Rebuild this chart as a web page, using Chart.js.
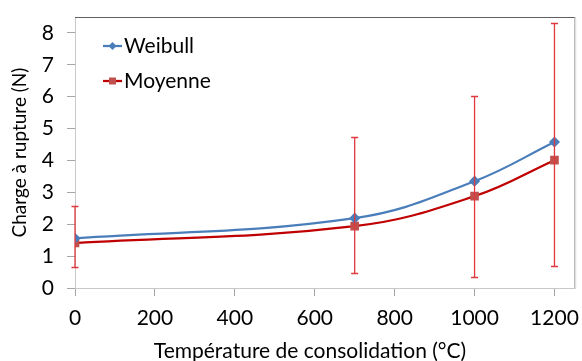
<!DOCTYPE html>
<html>
<head>
<meta charset="utf-8">
<script src="https://cdn.jsdelivr.net/npm/chart.js@4/dist/chart.umd.min.js"></script>
<style>
  html, body { margin: 0; padding: 0; background: #fff; }
  #wrap { width: 582px; height: 361px; position: relative; }
</style>
</head>
<body>
<div id="wrap"><canvas id="c"></canvas></div>
<script>
// temperatures (°C)
const temps = [0, 700, 1000, 1200];
const weibull = [1.56, 2.19, 3.35, 4.58];
const moyenne = [1.41, 1.94, 2.88, 4.01];
// error bar ends on the mean series
const errLow = [0.66, 0.47, 0.33, 0.69];
const errHigh = [2.57, 4.75, 6.02, 8.31];
const xTicks = [0, 200, 400, 600, 800, 1000, 1200];
const yTicks = [0, 1, 2, 3, 4, 5, 6, 7, 8];
const xTitle = "Température de consolidation (°C)";
const yTitle = "Charge à rupture (N)";

const FONT = "Lato, 'Open Sans', sans-serif";
const BLUE = "#4a7ebb";
const RED = "#c00000";
const RED_MK = "#c0504d";
const ERR = "#e0383e";

const toXY = (ys) => temps.map((t, i) => ({ x: t, y: ys[i] }));

const errorBars = {
  id: "errorBars",
  afterDatasetsDraw(chart) {
    const { ctx, scales: { x, y } } = chart;
    ctx.save();
    ctx.strokeStyle = ERR;
    ctx.lineWidth = 1.3;
    temps.forEach((t, i) => {
      const px = x.getPixelForValue(t);
      const top = Math.round(y.getPixelForValue(errHigh[i])) + 0.5;
      const bot = Math.round(y.getPixelForValue(errLow[i])) + 0.5;
      ctx.beginPath();
      ctx.moveTo(px, top); ctx.lineTo(px, bot);
      ctx.moveTo(px - 3.5, top); ctx.lineTo(px + 3.5, top);
      ctx.moveTo(px - 3.5, bot); ctx.lineTo(px + 3.5, bot);
      ctx.stroke();
    });
    ctx.restore();
  },
};

const frame = {
  id: "frame",
  beforeDatasetsDraw(chart) {
    const { ctx, chartArea: a } = chart;
    ctx.save();
    ctx.lineWidth = 1;
    ctx.strokeStyle = "#5f5f5f";
    ctx.beginPath();
    ctx.moveTo(a.left, a.top + 0.5); ctx.lineTo(a.right, a.top + 0.5);
    ctx.stroke();
    ctx.strokeStyle = "#a6a6a6";
    ctx.beginPath();
    ctx.moveTo(a.right - 0.5, a.top); ctx.lineTo(a.right - 0.5, a.bottom);
    ctx.stroke();
    ctx.strokeStyle = "#dcdcdc";
    ctx.beginPath();
    ctx.moveTo(a.right + 0.5, a.top + 1); ctx.lineTo(a.right + 0.5, a.bottom + 1);
    ctx.stroke();
    ctx.restore();
  },
};

// x title sits left of the plot centre in the original, so it is drawn here
const xTitlePlugin = {
  id: "xTitlePlugin",
  afterDraw(chart) {
    const { ctx } = chart;
    ctx.save();
    ctx.fillStyle = "#000";
    ctx.font = "21px " + FONT;
    ctx.textAlign = "center";
    ctx.textBaseline = "middle";
    ctx.fillText(xTitle, 310, 351);
    ctx.restore();
  },
};

const legendBox = {
  id: "legendBox",
  afterDraw(chart) {
    const { ctx } = chart;
    const rows = [46, 81];
    ctx.save();
    chart.data.datasets.forEach((ds, i) => {
      const cy = rows[i];
      ctx.strokeStyle = ds.borderColor;
      ctx.lineWidth = 2.25;
      ctx.beginPath();
      ctx.moveTo(103, cy); ctx.lineTo(122, cy);
      ctx.stroke();
      ctx.fillStyle = ds.pointBackgroundColor;
      ctx.beginPath();
      if (ds.pointStyle === "rectRot") {
        ctx.moveTo(112.5, cy - 4); ctx.lineTo(116.5, cy); ctx.lineTo(112.5, cy + 4); ctx.lineTo(108.5, cy);
      } else {
        ctx.rect(109, cy - 3.5, 7, 7);
      }
      ctx.fill();
      ctx.fillStyle = "#000";
      ctx.font = "21px " + FONT;
      ctx.textBaseline = "middle";
      ctx.fillText(ds.label, 124, cy);
    });
    ctx.restore();
  },
};

new Chart(document.getElementById("c"), {
  type: "line",
  data: {
    datasets: [
      {
        label: "Weibull", data: toXY(weibull),
        borderColor: BLUE, backgroundColor: BLUE,
        pointBackgroundColor: BLUE, pointBorderColor: BLUE,
        pointStyle: "rectRot", pointRadius: 4, borderWidth: 2.25, tension: 0.4,
      },
      {
        label: "Moyenne", data: toXY(moyenne),
        borderColor: RED, backgroundColor: RED_MK,
        pointBackgroundColor: RED_MK, pointBorderColor: RED_MK,
        pointStyle: "rect", pointRadius: 4.5, borderWidth: 2.25, tension: 0.4,
      },
    ],
  },
  options: {
    responsive: true, maintainAspectRatio: false, animation: false,
    layout: { padding: { top: 17, right: 5, left: 0, bottom: 0 } },
    plugins: { legend: { display: false }, tooltip: { enabled: false } },
    scales: {
      x: {
        type: "linear", min: 0, max: 1252,
        afterBuildTicks: (s) => { s.ticks = xTicks.map((v) => ({ value: v })); },
        afterFit: (s) => { s.height = 73; s.paddingLeft = 0; s.paddingRight = 0; },
        grid: { drawOnChartArea: false, drawTicks: true, tickLength: 8, color: "#a6a6a6" },
        border: { color: "#c8c8c8" },
        ticks: { color: "#000", font: { family: FONT, size: 21 }, padding: 10, maxRotation: 0,
                 callback: (v) => String(v) },
        title: { display: false, text: xTitle },
      },
      y: {
        min: 0, max: 8.5,
        afterBuildTicks: (s) => { s.ticks = yTicks.map((v) => ({ value: v })); },
        afterFit: (s) => { s.width = 75; s.paddingTop = 0; s.paddingBottom = 0; },
        grid: { drawOnChartArea: false, drawTicks: true, tickLength: 8, color: "#a6a6a6" },
        border: { color: "#c8c8c8" },
        ticks: { color: "#000", font: { family: FONT, size: 21 }, padding: 13,
                 callback: (v) => String(v) },
        title: { display: true, text: yTitle, color: "#000",
                 font: { family: FONT, size: 19, lineHeight: 1.2 }, padding: { top: 8, bottom: 0 } },
      },
    },
  },
  plugins: [frame, errorBars, legendBox, xTitlePlugin],
});
</script>
</body>
</html>
